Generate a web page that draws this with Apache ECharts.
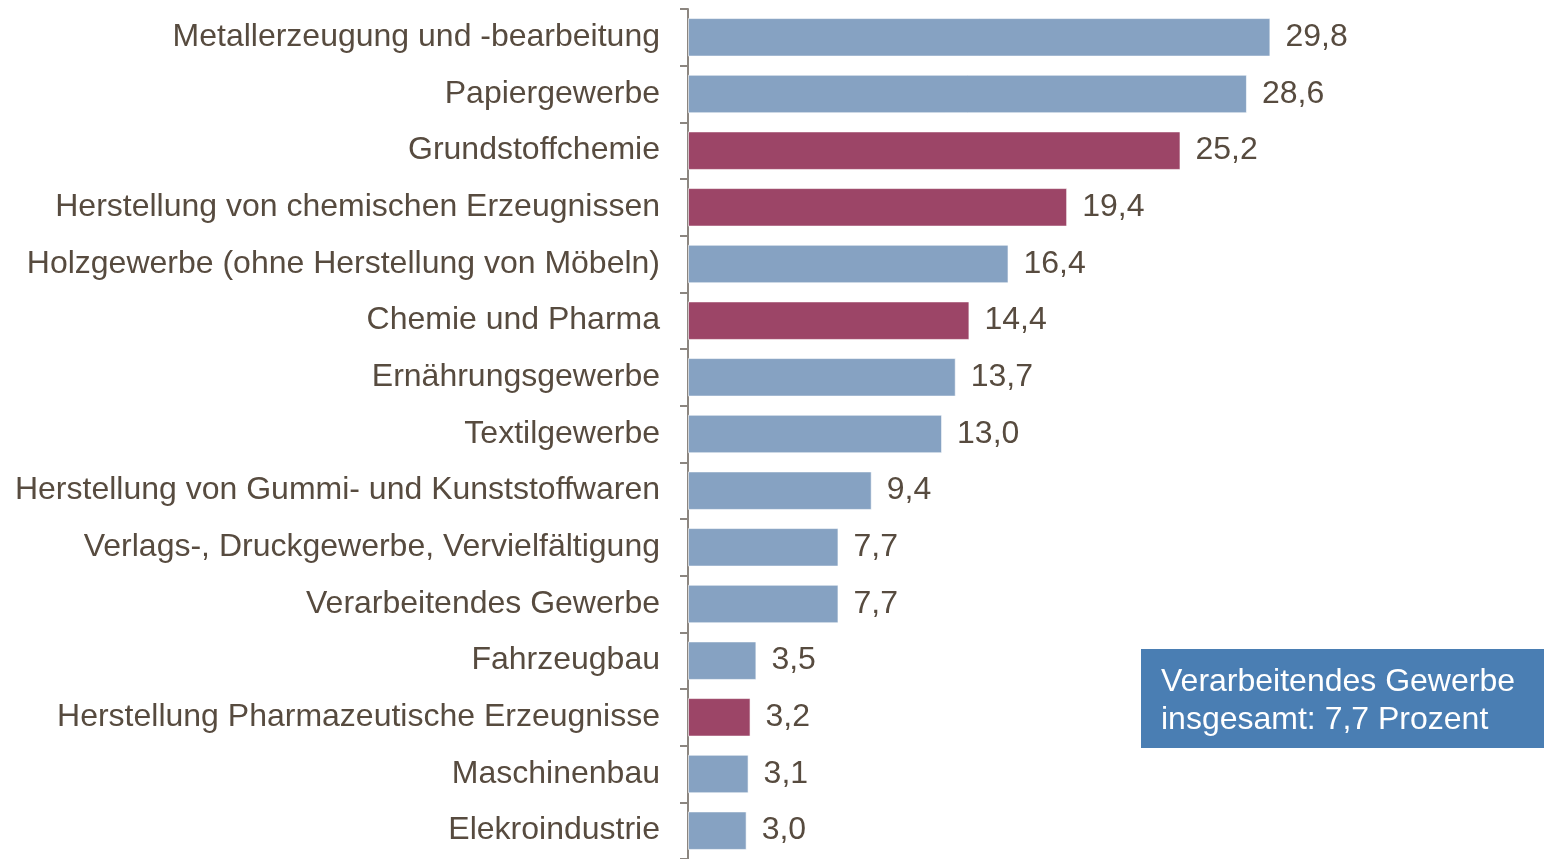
<!DOCTYPE html>
<html>
<head>
<meta charset="utf-8">
<script src="https://cdn.jsdelivr.net/npm/echarts@6/dist/echarts.min.js"></script>
<style>
  html, body { margin: 0; padding: 0; background: #fff; }
  #chart { width: 1544px; height: 859px; }
</style>
</head>
<body>
<div id="chart"></div>
<script>
var categories = [
  'Metallerzeugung und -bearbeitung',
  'Papiergewerbe',
  'Grundstoffchemie',
  'Herstellung von chemischen Erzeugnissen',
  'Holzgewerbe (ohne Herstellung von Möbeln)',
  'Chemie und Pharma',
  'Ernährungsgewerbe',
  'Textilgewerbe',
  'Herstellung von Gummi- und Kunststoffwaren',
  'Verlags-, Druckgewerbe, Vervielfältigung',
  'Verarbeitendes Gewerbe',
  'Fahrzeugbau',
  'Herstellung Pharmazeutische Erzeugnisse',
  'Maschinenbau',
  'Elekroindustrie'
]
var values = [29.8, 28.6, 25.2, 19.4, 16.4, 14.4, 13.7, 13.0, 9.4, 7.7, 7.7, 3.5, 3.2, 3.1, 3.0]
// chemie-bereich hervorgehoben
var highlight = [false, false, true, true, false, true, false, false, false, false, false, false, true, false, false]
var noteLines = ['Verarbeitendes Gewerbe', 'insgesamt: 7,7 Prozent']

var blue = '#86a2c2'
var red = '#9c4567'
var textColor = '#574b3f'

var chart = echarts.init(document.getElementById('chart'))

var barData = values.map(function (v, i) {
  return {
    value: v,
    itemStyle: { color: highlight[i] ? red : blue }
  }
})

option = {
  animation: false,
  grid: {
    left: 688,
    top: 9,
    width: 856,
    height: 852,
    containLabel: false
  },
  xAxis: {
    type: 'value',
    min: 0,
    max: 43.8,
    show: false
  },
  yAxis: {
    type: 'category',
    inverse: true,
    data: categories,
    axisLine: {
      lineStyle: { color: '#8c8680', width: 2 }
    },
    axisTick: {
      show: true,
      length: 8,
      lineStyle: { color: '#8c8680', width: 2 }
    },
    axisLabel: {
      color: textColor,
      fontFamily: 'Liberation Sans, Arial, sans-serif',
      fontSize: 32,
      margin: 28,
      padding: [5, 0, 0, 0]
    }
  },
  series: [{
    type: 'bar',
    data: barData,
    barCategoryGap: '32%',
    itemStyle: {
      borderColor: 'rgba(255,255,255,0.6)',
      borderWidth: 1
    },
    label: {
      show: true,
      position: 'right',
      distance: 15,
      padding: [5, 0, 0, 0],
      color: textColor,
      fontFamily: 'Liberation Sans, Arial, sans-serif',
      fontSize: 32,
      formatter: function (p) {
        return p.value.toFixed(1).replace('.', ',')
      }
    }
  }],
  graphic: [{
    type: 'rect',
    left: 1141,
    top: 649,
    shape: { width: 403, height: 99 },
    style: { fill: '#4a7eb3' }
  }, {
    type: 'text',
    left: 1161,
    top: 663,
    style: {
      text: noteLines.join('\n'),
      fill: '#fff',
      font: '32px "Liberation Sans", Arial, sans-serif',
      lineHeight: 38
    }
  }]
}
chart.setOption(option)
</script>
</body>
</html>
